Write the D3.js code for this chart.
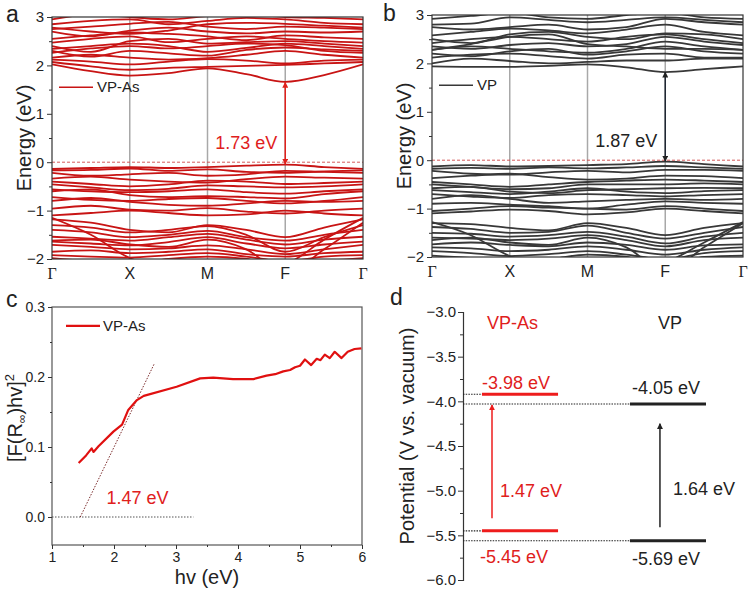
<!DOCTYPE html>
<html>
<head>
  <title>VP-As vs VP band structure</title>
  <script src="https://d3js.org/d3.v7.min.js"></script>
  <style>
    body { margin: 0; padding: 0; background: #fff; }
    svg { display: block; }
    text { font-family: "Liberation Sans", Arial, sans-serif; fill: #222; }
    .tick text { font-size: 14px; fill: #222; }
    .tick line { stroke: #333; }
    .domain { stroke: #333; }
    .axisLabel { font-size: 20px; }
    .panelLetter { font-size: 23px; }
  </style>
</head>
<body>
  <div id="chart"></div>
  <script>

    /* DATA */

    // k-path sample points (Γ=0, X=1, M=2, F=3, Γ=4) and labels
    let kPoints = [0, 0.5, 1, 1.5, 2, 2.5, 3, 3.5, 4];
    let kLabels = ["Γ", "X", "M", "F", "Γ"];

    // energies (eV) of each band at the k points above, VP-As
    let bandsVPAs = [
      [2.02, 1.88, 1.79, 1.84, 1.94, 1.82, 1.66, 1.80, 2.02],
      [2.07, 1.98, 1.91, 1.95, 1.97, 1.99, 2.01, 2.04, 2.07],
      [2.12, 2.08, 2.02, 2.08, 2.13, 2.10, 2.04, 2.10, 2.12],
      [2.16, 2.22, 2.16, 2.12, 2.15, 2.22, 2.30, 2.22, 2.16],
      [2.30, 2.18, 2.30, 2.25, 2.20, 2.32, 2.37, 2.33, 2.30],
      [2.34, 2.40, 2.45, 2.40, 2.28, 2.36, 2.45, 2.40, 2.34],
      [2.40, 2.28, 2.50, 2.55, 2.45, 2.48, 2.50, 2.45, 2.40],
      [2.47, 2.55, 2.60, 2.48, 2.55, 2.60, 2.55, 2.50, 2.47],
      [2.55, 2.62, 2.68, 2.65, 2.60, 2.52, 2.62, 2.58, 2.55],
      [2.70, 2.60, 2.72, 2.78, 2.70, 2.66, 2.70, 2.68, 2.70],
      [2.75, 2.80, 2.86, 2.90, 2.80, 2.75, 2.80, 2.78, 2.75],
      [2.85, 2.92, 2.95, 2.85, 2.92, 2.98, 2.95, 2.88, 2.85],
      [2.95, 3.05, 3.00, 2.95, 3.02, 3.05, 3.00, 2.98, 2.95],
      [2.26, 2.35, 2.40, 2.35, 2.40, 2.45, 2.42, 2.30, 2.26],
      [2.78, 2.70, 2.65, 2.72, 2.85, 2.88, 2.86, 2.82, 2.78],
      [-0.14, -0.12, -0.10, -0.12, -0.10, -0.07, -0.05, -0.10, -0.14],
      [-0.17, -0.16, -0.13, -0.18, -0.15, -0.20, -0.22, -0.19, -0.17],
      [-0.22, -0.28, -0.25, -0.22, -0.28, -0.25, -0.18, -0.20, -0.22],
      [-0.34, -0.30, -0.36, -0.40, -0.42, -0.35, -0.30, -0.32, -0.34],
      [-0.40, -0.45, -0.50, -0.46, -0.38, -0.40, -0.45, -0.43, -0.40],
      [-0.46, -0.52, -0.58, -0.55, -0.48, -0.50, -0.52, -0.50, -0.46],
      [-0.56, -0.60, -0.62, -0.60, -0.56, -0.62, -0.65, -0.60, -0.56],
      [-0.60, -0.56, -0.68, -0.72, -0.70, -0.72, -0.75, -0.66, -0.60],
      [-0.72, -0.78, -0.80, -0.76, -0.74, -0.80, -0.85, -0.80, -0.72],
      [-0.80, -0.74, -0.82, -0.88, -0.90, -0.85, -0.80, -0.82, -0.80],
      [-0.96, -0.90, -0.98, -1.00, -0.95, -1.02, -1.06, -1.00, -0.96],
      [-1.10, -1.05, -1.00, -1.05, -1.10, -1.08, -1.00, -1.06, -1.10],
      [-1.15, -1.50, -1.98, -2.20, -2.30, -2.20, -2.10, -1.60, -1.15],
      [-1.18, -1.25, -1.40, -1.45, -1.30, -1.40, -1.55, -1.35, -1.18],
      [-1.30, -1.35, -1.45, -1.40, -1.32, -1.50, -1.85, -1.55, -1.30],
      [-1.40, -1.45, -1.55, -1.50, -1.42, -1.55, -1.62, -1.50, -1.40],
      [-1.54, -1.58, -1.62, -1.55, -1.48, -1.60, -1.70, -1.60, -1.54],
      [-1.64, -1.68, -1.72, -1.65, -1.55, -1.68, -1.78, -1.70, -1.64],
      [-1.71, -1.75, -1.80, -1.78, -1.72, -1.80, -1.90, -1.80, -1.71],
      [-1.85, -1.82, -1.88, -1.85, -1.80, -1.90, -1.95, -1.88, -1.85],
      [-1.92, -1.95, -1.97, -1.92, -1.88, -1.95, -2.05, -1.95, -1.92],
      [-1.98, -2.05, -2.10, -2.00, -1.95, -2.00, -2.20, -2.05, -1.98],
      [-1.62, -1.60, -1.70, -1.75, -1.60, -1.80, -2.30, -1.80, -1.25]
    ];

    // energies (eV) of each band at the k points above, VP
    let bandsVP = [
      [1.94, 1.93, 1.93, 1.95, 1.98, 1.92, 1.82, 1.88, 1.94],
      [2.00, 2.10, 2.05, 2.00, 2.03, 2.06, 2.06, 2.10, 2.10],
      [2.12, 2.18, 2.20, 2.15, 2.10, 2.18, 2.20, 2.12, 2.12],
      [2.20, 2.15, 2.25, 2.30, 2.18, 2.25, 2.35, 2.25, 2.20],
      [2.28, 2.35, 2.30, 2.25, 2.22, 2.30, 2.45, 2.35, 2.28],
      [2.35, 2.30, 2.38, 2.42, 2.35, 2.40, 2.55, 2.45, 2.38],
      [2.42, 2.50, 2.55, 2.50, 2.45, 2.55, 2.60, 2.50, 2.42],
      [2.50, 2.42, 2.60, 2.65, 2.55, 2.50, 2.62, 2.60, 2.50],
      [2.58, 2.65, 2.72, 2.68, 2.62, 2.70, 2.80, 2.65, 2.58],
      [2.75, 2.70, 2.75, 2.80, 2.70, 2.75, 2.92, 2.85, 2.80],
      [2.80, 2.82, 2.95, 2.90, 2.85, 2.90, 2.95, 2.90, 2.85],
      [2.92, 2.98, 3.05, 2.95, 2.92, 3.00, 3.05, 2.95, 2.92],
      [2.28, 2.40, 2.55, 2.60, 2.40, 2.35, 2.30, 2.30, 2.28],
      [-0.13, -0.10, -0.13, -0.12, -0.10, -0.08, -0.03, -0.08, -0.13],
      [-0.18, -0.16, -0.18, -0.15, -0.17, -0.15, -0.12, -0.15, -0.18],
      [-0.22, -0.28, -0.30, -0.25, -0.22, -0.25, -0.20, -0.20, -0.22],
      [-0.37, -0.32, -0.28, -0.35, -0.40, -0.38, -0.32, -0.33, -0.37],
      [-0.45, -0.50, -0.55, -0.50, -0.45, -0.42, -0.40, -0.42, -0.45],
      [-0.50, -0.55, -0.60, -0.58, -0.50, -0.50, -0.50, -0.48, -0.50],
      [-0.58, -0.55, -0.65, -0.68, -0.62, -0.60, -0.58, -0.57, -0.58],
      [-0.62, -0.66, -0.70, -0.65, -0.58, -0.65, -0.68, -0.64, -0.62],
      [-0.70, -0.75, -0.78, -0.72, -0.70, -0.72, -0.75, -0.72, -0.70],
      [-0.80, -0.72, -0.80, -0.88, -0.85, -0.82, -0.80, -0.82, -0.80],
      [-0.90, -0.88, -0.92, -0.95, -1.00, -0.92, -0.85, -0.88, -0.90],
      [-1.05, -1.00, -0.95, -0.98, -1.00, -1.02, -0.95, -1.00, -1.05],
      [-1.10, -1.06, -1.02, -1.05, -1.12, -1.08, -1.00, -1.05, -1.10],
      [-1.28, -1.55, -1.98, -2.20, -2.30, -2.20, -2.10, -1.70, -1.28],
      [-1.30, -1.32, -1.40, -1.45, -1.30, -1.40, -1.55, -1.40, -1.30],
      [-1.38, -1.42, -1.50, -1.48, -1.35, -1.50, -1.62, -1.50, -1.38],
      [-1.50, -1.52, -1.58, -1.55, -1.48, -1.58, -1.72, -1.58, -1.50],
      [-1.60, -1.62, -1.65, -1.62, -1.55, -1.65, -1.78, -1.65, -1.60],
      [-1.74, -1.70, -1.75, -1.78, -1.70, -1.75, -1.85, -1.76, -1.74],
      [-1.80, -1.82, -1.88, -1.85, -1.78, -1.85, -1.95, -1.85, -1.80],
      [-1.88, -1.92, -1.98, -1.94, -1.88, -1.95, -2.05, -1.92, -1.88],
      [-1.97, -2.02, -2.10, -2.05, -1.95, -2.00, -2.20, -2.00, -1.97],
      [-1.65, -1.60, -1.70, -1.75, -1.60, -1.80, -2.30, -1.80, -1.30]
    ];

    // gap arrows at F: [from, to] in eV, and their labels
    let gapVPAs = [-0.04, 1.65];
    let gapVP = [-0.02, 1.82];
    let gapLabels = ["1.73 eV", "1.87 eV"];

    // Kubelka-Munk plot for VP-As
    let absHv = [1.43, 1.55, 1.64, 1.67, 1.75, 1.99, 2.13, 2.23, 2.37, 2.48, 3.01, 3.39, 3.6, 3.92,
                 4.25, 4.46, 4.6, 4.73, 4.84, 4.92, 5.0, 5.08, 5.18, 5.27, 5.33, 5.4, 5.48, 5.56, 5.67, 5.77, 5.88, 5.99];
    let absF  = [0.077, 0.088, 0.098, 0.093, 0.101, 0.122, 0.132, 0.153, 0.167, 0.173, 0.186, 0.198, 0.199, 0.197,
                 0.197, 0.202, 0.204, 0.208, 0.210, 0.214, 0.216, 0.225, 0.217, 0.226, 0.224, 0.232, 0.227, 0.236, 0.227, 0.236, 0.240, 0.241];
    let tangentHv = [1.456, 2.65];
    let tangentF = [0, 0.219];
    let baselineHv = [1, 3.28];

    // band edge levels (V vs. vacuum)
    let materials = ["VP-As", "VP"];
    let cbLevels = [-3.92, -4.03];
    let vbLevels = [-5.45, -5.56];
    let cbText = ["-3.98 eV", "-4.05 eV"];
    let vbText = ["-5.45 eV", "-5.69 eV"];
    let edgeGapText = ["1.47 eV", "1.64 eV"];
    let arrowFrom = [-5.31, -5.41];
    let arrowTo = [-4.04, -4.25];

    /* CANVAS */

    let svg = d3.select("#chart")
      .append("svg")
      .attr("width", 750)
      .attr("height", 597);

    let defs = svg.append("defs");

    function addMarker(id, color) {
      defs.append("marker")
        .attr("id", id)
        .attr("viewBox", "0 0 10 10")
        .attr("refX", 9)
        .attr("refY", 5)
        .attr("markerWidth", 6)
        .attr("markerHeight", 6)
        .attr("markerUnits", "userSpaceOnUse")
        .attr("orient", "auto-start-reverse")
        .append("path")
        .attr("d", "M0,0 L10,5 L0,10 z")
        .attr("fill", color);
    }
    addMarker("arrRed", "#e0201c");
    addMarker("arrDark", "#222");
    addMarker("arrRedD", "#ee1c1c");

    let RED = "#e0201c";

    /* BAND STRUCTURE PANELS (a, b) */

    function drawBands(p) {
      let g = svg.append("g");

      let xScale = d3.scaleLinear().domain([0, 4]).range([p.left, p.right]);
      let yScale = d3.scaleLinear().domain([-2, 3]).range([p.bottom, p.top]);

      defs.append("clipPath").attr("id", p.id)
        .append("rect")
        .attr("x", p.left).attr("y", p.top)
        .attr("width", p.right - p.left).attr("height", p.bottom - p.top);

      // vertical lines at high-symmetry points
      g.selectAll(".kline")
        .data([1, 2, 3])
        .enter()
        .append("line")
          .attr("x1", d => xScale(d)).attr("x2", d => xScale(d))
          .attr("y1", p.top).attr("y2", p.bottom)
          .attr("stroke", "#a8a8a8")
          .attr("stroke-width", 1.5);

      let line = d3.line()
        .x((d, i) => xScale(kPoints[i]))
        .y(d => yScale(d))
        .curve(d3.curveMonotoneX);

      g.append("g")
        .attr("clip-path", `url(#${p.id})`)
        .selectAll("path")
        .data(p.bands)
        .enter()
        .append("path")
          .attr("d", line)
          .attr("fill", "none")
          .attr("stroke", p.color)
          .attr("stroke-width", 1.8);

      // fermi level
      g.append("line")
        .attr("x1", p.left).attr("x2", p.right)
        .attr("y1", yScale(0)).attr("y2", yScale(0))
        .attr("stroke", "#d04848")
        .attr("stroke-width", 0.9)
        .attr("stroke-dasharray", "3,2");

      // frame
      g.append("rect")
        .attr("x", p.left).attr("y", p.top)
        .attr("width", p.right - p.left).attr("height", p.bottom - p.top)
        .attr("fill", "none")
        .attr("stroke", "#333")
        .attr("stroke-width", 1.2);

      // y axis, major + minor
      g.append("g")
        .attr("transform", `translate(${p.left},0)`)
        .call(d3.axisLeft(yScale).tickValues([-2, -1, 0, 1, 2, 3]).tickSize(5).tickPadding(3).tickFormat(d3.format("d")))
        .call(a => a.select(".domain").remove())
        .selectAll("text").style("font-size", "15px");
      g.append("g")
        .attr("transform", `translate(${p.left},0)`)
        .call(d3.axisLeft(yScale).tickValues([-1.5, -0.5, 0.5, 1.5, 2.5]).tickSize(3).tickFormat(""))
        .call(a => a.select(".domain").remove());

      // k labels
      g.selectAll(".klabel")
        .data(kLabels)
        .enter()
        .append("text")
          .attr("x", (d, i) => xScale(i))
          .attr("y", p.bottom + 20)
          .attr("text-anchor", "middle")
          .style("font-size", "16px")
          .style("font-family", d => d === "Γ" ? "'Liberation Serif', serif" : null)
          .text(d => d);

      // y label
      g.append("text")
        .attr("class", "axisLabel")
        .attr("transform", "rotate(-90)")
        .attr("x", -(p.top + p.bottom) / 2)
        .attr("y", p.labelX)
        .attr("text-anchor", "middle")
        .text("Energy (eV)");

      // panel letter
      g.append("text")
        .attr("class", "panelLetter")
        .attr("x", p.letterX).attr("y", p.letterY)
        .text(p.letter);

      // legend
      g.append("line")
        .attr("x1", p.left + 7).attr("x2", p.left + 41)
        .attr("y1", yScale(1.55)).attr("y2", yScale(1.55))
        .attr("stroke", p.color).attr("stroke-width", 1.6);
      g.append("text")
        .attr("x", p.left + 45).attr("y", yScale(1.55) + 5)
        .style("font-size", "15px")
        .text(p.name);

      // gap arrow at F
      g.append("line")
        .attr("x1", xScale(3)).attr("x2", xScale(3))
        .attr("y1", yScale(p.gap[0])).attr("y2", yScale(p.gap[1]))
        .attr("stroke", p.arrowColor).attr("stroke-width", 1.5)
        .attr("marker-start", `url(#${p.marker})`)
        .attr("marker-end", `url(#${p.marker})`);
      g.append("text")
        .attr("x", xScale(3) - 8).attr("y", yScale(0.27))
        .attr("text-anchor", "end")
        .style("font-size", "18px")
        .style("fill", p.textColor)
        .text(p.gapLabel);
    }

    drawBands({
      id: "clipA", left: 52, right: 363, top: 17, bottom: 259,
      bands: bandsVPAs, color: "#c81414", name: "VP-As",
      gap: gapVPAs, gapLabel: gapLabels[0], arrowColor: RED, textColor: RED, marker: "arrRed",
      labelX: 31, letter: "a", letterX: 6, letterY: 22
    });

    drawBands({
      id: "clipB", left: 432, right: 743, top: 15, bottom: 257,
      bands: bandsVP, color: "#383838", name: "VP",
      gap: gapVP, gapLabel: gapLabels[1], arrowColor: "#1f2733", textColor: "#222", marker: "arrDark",
      labelX: 411, letter: "b", letterX: 383, letterY: 21
    });

    /* ABSORPTION PANEL (c) */

    let c = {left: 52, right: 362, top: 307, bottom: 545};
    c.g = svg.append("g");
    c.xScale = d3.scaleLinear().domain([1, 6]).range([c.left, c.right]);
    c.yScale = d3.scaleLinear().domain([-0.04, 0.3]).range([c.bottom, c.top]);

    c.g.append("rect")
      .attr("x", c.left).attr("y", c.top)
      .attr("width", c.right - c.left).attr("height", c.bottom - c.top)
      .attr("fill", "none").attr("stroke", "#555").attr("stroke-width", 1.2);

    c.g.append("g")
      .attr("transform", `translate(0,${c.bottom})`)
      .call(d3.axisBottom(c.xScale).tickValues([1, 2, 3, 4, 5, 6]).tickSize(4).tickPadding(3).tickFormat(d3.format("d")))
      .call(a => a.select(".domain").remove());
    c.g.append("g")
      .attr("transform", `translate(0,${c.bottom})`)
      .call(d3.axisBottom(c.xScale).tickValues([1.5, 2.5, 3.5, 4.5, 5.5]).tickSize(2).tickFormat(""))
      .call(a => a.select(".domain").remove());
    c.g.append("g")
      .attr("transform", `translate(${c.left},0)`)
      .call(d3.axisLeft(c.yScale).tickValues([0, 0.1, 0.2, 0.3]).tickSize(4).tickPadding(3).tickFormat(d3.format(".1f")))
      .call(a => a.select(".domain").remove());
    c.g.append("g")
      .attr("transform", `translate(${c.left},0)`)
      .call(d3.axisLeft(c.yScale).tickValues([0.05, 0.15, 0.25]).tickSize(2).tickFormat(""))
      .call(a => a.select(".domain").remove());

    // baseline and tangent
    c.g.append("line")
      .attr("x1", c.xScale(baselineHv[0])).attr("x2", c.xScale(baselineHv[1]))
      .attr("y1", c.yScale(0)).attr("y2", c.yScale(0))
      .attr("stroke", "#555").attr("stroke-width", 1.1).attr("stroke-dasharray", "1.5,1.5");
    c.g.append("line")
      .attr("x1", c.xScale(tangentHv[0])).attr("x2", c.xScale(tangentHv[1]))
      .attr("y1", c.yScale(tangentF[0])).attr("y2", c.yScale(tangentF[1]))
      .attr("stroke", "#7a2a2a").attr("stroke-width", 1).attr("stroke-dasharray", "1.5,1.5");

    c.line = d3.line()
      .x((d, i) => c.xScale(absHv[i]))
      .y(d => c.yScale(d));
    c.g.append("path")
      .datum(absF)
      .attr("d", c.line)
      .attr("fill", "none")
      .attr("stroke", "#e01010")
      .attr("stroke-width", 2.2)
      .attr("stroke-linejoin", "round");

    // legend
    c.g.append("line")
      .attr("x1", 66).attr("x2", 100)
      .attr("y1", c.yScale(0.273)).attr("y2", c.yScale(0.273))
      .attr("stroke", "#e01010").attr("stroke-width", 2.2);
    c.g.append("text")
      .attr("x", 103).attr("y", c.yScale(0.273) + 5)
      .style("font-size", "15px")
      .text("VP-As");

    c.g.append("text")
      .attr("x", c.xScale(1.88)).attr("y", c.yScale(0.018))
      .style("font-size", "18px").style("fill", RED)
      .text("1.47 eV");

    c.g.append("text")
      .attr("class", "axisLabel")
      .attr("x", (c.left + c.right) / 2).attr("y", 584)
      .attr("text-anchor", "middle")
      .text("hv (eV)");

    c.yLabel = c.g.append("text")
      .attr("class", "axisLabel")
      .attr("transform", "rotate(-90)")
      .attr("x", -(c.top + c.bottom) / 2 + 8)
      .attr("y", 22)
      .attr("text-anchor", "middle");
    c.yLabel.append("tspan").text("[F(R");
    c.yLabel.append("tspan").attr("dy", 4).style("font-size", "12px").text("∞");
    c.yLabel.append("tspan").attr("dy", -4).text(")hv]");
    c.yLabel.append("tspan").attr("dy", -8).style("font-size", "13px").text("2");

    c.g.append("text")
      .attr("class", "panelLetter")
      .attr("x", 6).attr("y", 307)
      .text("c");

    /* BAND EDGE PANEL (d) */

    let d = {axisX: 463, top: 312, bottom: 580};
    d.g = svg.append("g");
    d.yScale = d3.scaleLinear().domain([-6, -3]).range([d.bottom, d.top]);
    d.xScale = d3.scaleBand().domain(materials).range([482, 706]).paddingInner(0.486).paddingOuter(0);
    d.colors = [RED, "#222"];

    d.g.append("g")
      .attr("transform", `translate(${d.axisX},0)`)
      .call(d3.axisLeft(d.yScale).tickValues([-6, -5.5, -5, -4.5, -4, -3.5, -3]).tickSize(5).tickPadding(2).tickFormat(d3.format(".1f")))
      .call(a => a.select(".domain").attr("stroke-width", 1.2))
      .selectAll("text").style("font-size", "15px");
    d.g.append("g")
      .attr("transform", `translate(${d.axisX},0)`)
      .call(d3.axisLeft(d.yScale).tickValues([-5.75, -5.25, -4.75, -4.25, -3.75, -3.25]).tickSize(3).tickFormat(""))
      .call(a => a.select(".domain").remove());

    d.g.append("text")
      .attr("class", "axisLabel")
      .attr("transform", "rotate(-90)")
      .attr("x", -(d.top + d.bottom) / 2 + 10)
      .attr("y", 414)
      .attr("text-anchor", "middle")
      .text("Potential (V vs. vacuum)");

    d.g.append("text")
      .attr("class", "panelLetter")
      .attr("x", 390).attr("y", 305)
      .text("d");

    // dotted guide lines from the axis to each level
    let guideEnds = [d.xScale("VP-As"), d.xScale("VP")];
    [cbLevels, vbLevels].forEach(levels => {
      d.g.selectAll(null)
        .data(levels)
        .enter()
        .append("line")
          .attr("x1", d.axisX)
          .attr("x2", (v, i) => guideEnds[i])
          .attr("y1", v => d.yScale(v)).attr("y2", v => d.yScale(v))
          .attr("stroke", "#222").attr("stroke-width", 1.1).attr("stroke-dasharray", "1.5,1.2");
    });

    // level bars
    [cbLevels, vbLevels].forEach(levels => {
      d.g.selectAll(null)
        .data(levels)
        .enter()
        .append("line")
          .attr("x1", (v, i) => d.xScale(materials[i]))
          .attr("x2", (v, i) => d.xScale(materials[i]) + d.xScale.bandwidth())
          .attr("y1", v => d.yScale(v)).attr("y2", v => d.yScale(v))
          .attr("stroke", (v, i) => i === 0 ? "#ee1c1c" : "#222")
          .attr("stroke-width", 3);
    });

    // transition arrows
    let arrowOffsets = [10, 30];
    d.g.selectAll(null)
      .data(materials)
      .enter()
      .append("line")
        .attr("x1", (m, i) => d.xScale(m) + arrowOffsets[i])
        .attr("x2", (m, i) => d.xScale(m) + arrowOffsets[i])
        .attr("y1", (m, i) => d.yScale(arrowFrom[i]))
        .attr("y2", (m, i) => d.yScale(arrowTo[i]))
        .attr("stroke", (m, i) => i === 0 ? "#ee1c1c" : "#222")
        .attr("stroke-width", 1.5)
        .attr("marker-end", (m, i) => i === 0 ? "url(#arrRedD)" : "url(#arrDark)");

    // texts
    d.g.selectAll(null)
      .data(materials)
      .enter()
      .append("text")
        .attr("x", (m, i) => d.xScale(m) + (i === 0 ? 5 : 28))
        .attr("y", 329)
        .style("font-size", "18px")
        .style("fill", (m, i) => d.colors[i])
        .text(m => m);

    let cbOffsets = [[0, -5], [2, -10]];
    let vbOffsets = [[-2, 32], [2, 24]];
    let gapPos = [[18, -5.07], [43, -5.05]];
    materials.forEach((m, i) => {
      let x0 = d.xScale(m);
      d.g.append("text")
        .attr("x", x0 + cbOffsets[i][0]).attr("y", d.yScale(cbLevels[i]) + cbOffsets[i][1])
        .style("font-size", "18px").style("fill", d.colors[i])
        .text(cbText[i]);
      d.g.append("text")
        .attr("x", x0 + vbOffsets[i][0]).attr("y", d.yScale(vbLevels[i]) + vbOffsets[i][1])
        .style("font-size", "18px").style("fill", d.colors[i])
        .text(vbText[i]);
      d.g.append("text")
        .attr("x", x0 + gapPos[i][0]).attr("y", d.yScale(gapPos[i][1]))
        .style("font-size", "18px").style("fill", d.colors[i])
        .text(edgeGapText[i]);
    });

  </script>
</body>
</html>
